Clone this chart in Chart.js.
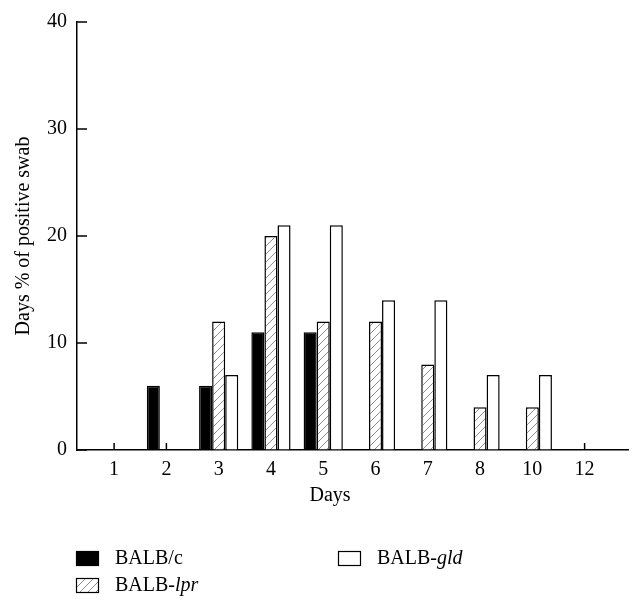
<!DOCTYPE html>
<html>
<head>
<meta charset="utf-8">
<script src="https://cdn.jsdelivr.net/npm/chart.js@4/dist/chart.umd.min.js"></script>
<style>
  html, body { margin: 0; padding: 0; background: #fff; }
  #wrap { width: 642px; height: 614px; }
</style>
</head>
<body>
<div id="wrap"><canvas id="chart"></canvas></div>
<script>
// data
const categories = ["1", "2", "3", "4", "5", "6", "7", "8", "10", "12"];
const balbC   = [0, 6, 6, 11, 11, 0, 0, 0, 0, 0];
const balbLpr = [0, 0, 12, 20, 12, 12, 8, 4, 4, 0];
const balbGld = [0, 0, 7, 21, 21, 14, 14, 7, 7, 0];
const yTicks  = [0, 10, 20, 30, 40];

const FONT = "'Liberation Serif', 'DejaVu Serif', serif";

// diagonal hatch for BALB-lpr
function makeHatch() {
  const n = 8;
  const c = document.createElement("canvas");
  c.width = n; c.height = n;
  const g = c.getContext("2d");
  g.fillStyle = "#fff";
  g.fillRect(0, 0, n, n);
  g.strokeStyle = "#808080";
  g.lineWidth = 0.9;
  g.beginPath();
  g.moveTo(0, n); g.lineTo(n, 0);
  g.moveTo(-1, 1); g.lineTo(1, -1);
  g.moveTo(n - 1, n + 1); g.lineTo(n + 1, n - 1);
  g.stroke();
  return g.createPattern(c, "repeat");
}
const hatch = makeHatch();

const toPoints = arr => arr.map((v, i) => ({ x: i, y: v }));

// inner tick marks, drawn under the bars
const innerTicks = {
  id: "innerTicks",
  beforeDatasetsDraw(chart) {
    const { ctx, chartArea, scales } = chart;
    ctx.save();
    ctx.strokeStyle = "#000";
    ctx.lineWidth = 1.5;
    ctx.beginPath();
    scales.y.ticks.forEach(t => {
      const py = scales.y.getPixelForValue(t.value);
      ctx.moveTo(chartArea.left, py);
      ctx.lineTo(chartArea.left + 10, py);
    });
    scales.x.ticks.forEach(t => {
      const px = scales.x.getPixelForValue(t.value);
      ctx.moveTo(px, chartArea.bottom);
      ctx.lineTo(px, chartArea.bottom - 7);
    });
    ctx.stroke();
    ctx.restore();
  }
};

// x title + legend with italic strain names
const extras = {
  id: "extras",
  afterDraw(chart) {
    const { ctx, chartArea } = chart;
    ctx.save();
    ctx.fillStyle = "#000";
    ctx.font = "20px " + FONT;
    ctx.textAlign = "center";
    ctx.textBaseline = "middle";
    ctx.fillText("Days", chartArea.left + 253, chartArea.bottom + 46);

    const items = [
      { ds: 0, parts: ["BALB/c", ""], x: 76, y: 551 },
      { ds: 1, parts: ["BALB-", "lpr"], x: 76, y: 578 },
      { ds: 2, parts: ["BALB-", "gld"], x: 338, y: 551 }
    ];
    ctx.textAlign = "left";
    items.forEach(it => {
      const d = chart.data.datasets[it.ds];
      ctx.fillStyle = d.backgroundColor;
      ctx.fillRect(it.x, it.y, 23, 15);
      ctx.strokeStyle = "#000";
      ctx.lineWidth = 1.2;
      ctx.strokeRect(it.x + 0.5, it.y + 0.5, 22, 14);
      ctx.fillStyle = "#000";
      ctx.font = "20px " + FONT;
      const ty = it.y + 8;
      ctx.fillText(it.parts[0], it.x + 39, ty);
      const w = ctx.measureText(it.parts[0]).width;
      ctx.font = "italic 20px " + FONT;
      ctx.fillText(it.parts[1], it.x + 39 + w, ty);
    });
    ctx.restore();
  }
};

new Chart(document.getElementById("chart"), {
  type: "bar",
  data: {
    datasets: [
      { label: "BALB/c", data: toPoints(balbC), backgroundColor: "#000", borderColor: "#000", borderWidth: 1.5 },
      { label: "BALB-lpr", data: toPoints(balbLpr), backgroundColor: hatch, borderColor: "#000", borderWidth: 1.5 },
      { label: "BALB-gld", data: toPoints(balbGld), backgroundColor: "#fff", borderColor: "#000", borderWidth: 1.5 }
    ]
  },
  options: {
    responsive: true,
    maintainAspectRatio: false,
    animation: false,
    layout: { padding: { left: 0, top: 22, right: 14, bottom: 0 } },
    datasets: { bar: { categoryPercentage: 0.75, barPercentage: 1, borderSkipped: "start" } },
    plugins: { legend: { display: false }, tooltip: { enabled: false } },
    scales: {
      x: {
        type: "linear",
        offset: false,
        min: -0.71,
        max: 9.83,
        afterFit: s => { s.height = 164; },
        afterBuildTicks: s => { s.ticks = categories.map((c, i) => ({ value: i })); },
        grid: { offset: false, drawOnChartArea: false, drawTicks: false },
        border: { display: true, color: "#000", width: 1.5 },
        ticks: {
          padding: 8,
          color: "#000",
          font: { family: FONT, size: 20 },
          callback: v => categories[v]
        }
      },
      y: {
        min: 0,
        max: 40,
        afterFit: s => { s.width = 77; },
        afterBuildTicks: s => { s.ticks = yTicks.map(v => ({ value: v })); },
        grid: { drawOnChartArea: false, drawTicks: false },
        border: { display: true, color: "#000", width: 1.5 },
        ticks: { padding: 10, color: "#000", font: { family: FONT, size: 20 } },
        title: {
          display: true,
          text: "Days % of positive swab",
          color: "#000",
          font: { family: FONT, size: 20 },
          padding: { top: 12, bottom: 0 }
        }
      }
    }
  },
  plugins: [innerTicks, extras]
});
</script>
</body>
</html>
